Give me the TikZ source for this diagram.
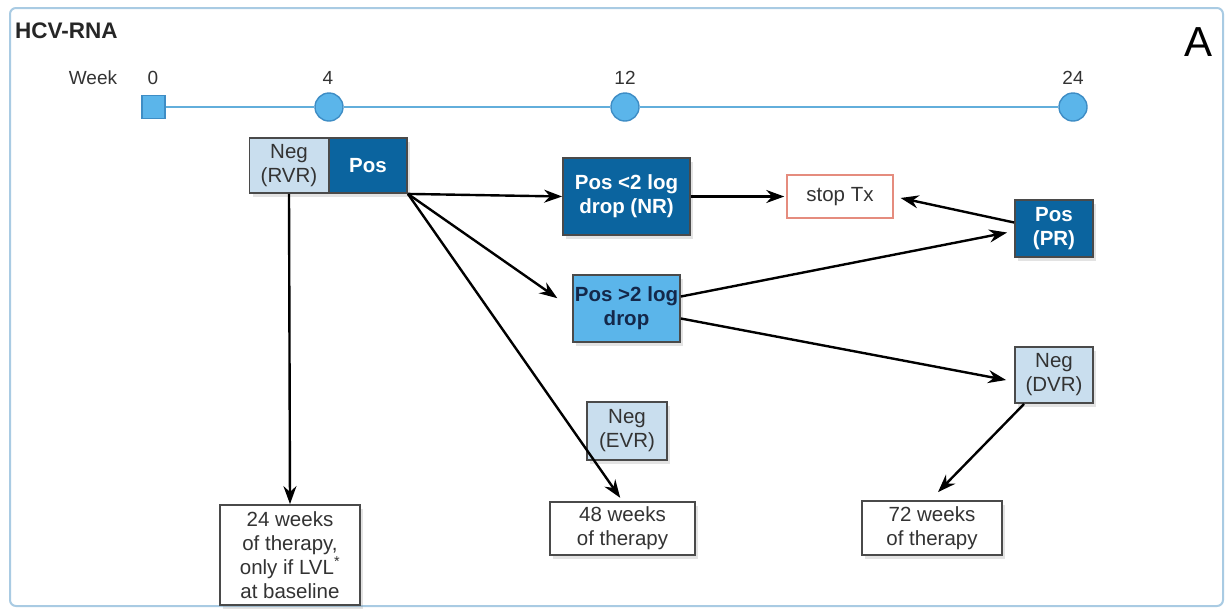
\documentclass[tikz,border=0pt]{standalone}
\usepackage{fontspec}
\setmainfont{Liberation Sans}
\usetikzlibrary{arrows.meta,shadows,calc}
\definecolor{darkb}{HTML}{0B649F}
\definecolor{midb}{HTML}{5BB5EA}
\definecolor{paleb}{HTML}{C9DEEE}
\definecolor{frameb}{HTML}{A9CBE3}
\definecolor{lineb}{HTML}{62AEDB}
\definecolor{circb}{HTML}{3E8DC5}
\definecolor{txtg}{HTML}{333333}
\definecolor{boxg}{HTML}{4A4A4A}
\definecolor{salmon}{HTML}{E58C7E}
\definecolor{navytxt}{HTML}{14284A}
\tikzset{
  box/.style={draw=boxg, line width=1.8pt, align=center, inner sep=0pt,
    font=\fontsize{20.5}{24}\selectfont, text=txtg,
    drop shadow={opacity=0.22, shadow xshift=3pt, shadow yshift=-4pt}},
  darkbox/.style={box, fill=darkb, draw=boxg, text=white, font=\fontsize{20.5}{24}\selectfont\bfseries},
  midbox/.style={box, fill=midb, text=navytxt, font=\fontsize{20.5}{24}\selectfont\bfseries},
  palebox/.style={box, fill=paleb},
  whitebox/.style={box, fill=white},
  arr/.style={-{Stealth[length=18pt,width=13pt]}, line width=2.4pt, black},
  tick/.style={text=txtg, font=\fontsize{19}{22}\selectfont},
  milestone/.style={circle, fill=midb, draw=circb, line width=1.4pt, minimum size=28pt, inner sep=0pt}
}
\begin{document}
\begin{tikzpicture}[x=1pt,y=-1pt]
\useasboundingbox (0,0) rectangle (1226,614);
\fill[white] (0,0) rectangle (1226,614);
\draw[frameb, line width=2pt, rounded corners=6pt] (10,8) rectangle (1223,606);
\node[font=\fontsize{42}{42}\selectfont, anchor=center] (lblA) at (1198,42) {A};
\node[font=\fontsize{22.5}{25}\selectfont\bfseries, anchor=west, inner sep=0pt, text=black!85] (title) at (15,31) {HCV-RNA};
% timeline
\node[tick] (wk) at (93,78) {Week};
\node[tick] (t0) at (153,78) {0};
\node[tick] (t4) at (328,78) {4};
\node[tick] (t12) at (625,78) {12};
\node[tick] (t24) at (1073,78) {24};
\node[draw=circb, fill=midb, line width=1.4pt, minimum size=23pt, inner sep=0pt] (m0) at (153.5,107) {};
\node[milestone] (m4) at (329,107) {};
\node[milestone] (m12) at (625,107) {};
\node[milestone] (m24) at (1073,107) {};
\draw[lineb, line width=2pt] (m0) -- (m4) -- (m12) -- (m24);
% boxes
\node[palebox, minimum width=79pt, minimum height=55pt] (rvr) at (289,165.5) {Neg\\(RVR)};
\node[darkbox, minimum width=78pt, minimum height=55pt] (pos) at (368,165.5) {Pos};
\node[darkbox, minimum width=127pt, minimum height=77pt] (nr) at (626.5,196.5) {Pos <2 log\\drop (NR)};
\node[draw=salmon, fill=white, line width=1.5pt, align=center, inner sep=0pt, text=txtg, font=\fontsize{20.5}{24}\selectfont, minimum width=106pt, minimum height=43pt] (stop) at (840,196.5) {stop Tx};
\node[darkbox, minimum width=78pt, minimum height=57pt] (pr) at (1054,228.5) {Pos\\(PR)};
\node[midbox, minimum width=107pt, minimum height=67pt] (gt) at (626.5,308.5) {Pos >2 log\\drop};
\node[palebox, minimum width=80pt, minimum height=58pt] (evr) at (627,431) {Neg\\(EVR)};
\node[palebox, minimum width=78pt, minimum height=56pt] (dvr) at (1054,375) {Neg\\(DVR)};
\node[whitebox, minimum width=140pt, minimum height=100pt] (w24) at (290,555) {24 weeks\\of therapy,\\only if LVL\textsuperscript{*}\\at baseline};
\node[whitebox, minimum width=145pt, minimum height=53pt] (w48) at (622.5,528.5) {48 weeks\\of therapy};
\node[whitebox, minimum width=140pt, minimum height=54pt] (w72) at (932,528) {72 weeks\\of therapy};
% arrows
\draw[arr] (rvr.south) -- (w24.north);
\draw[arr] (pos.south east) -- (nr.west);
\draw[arr, shorten >=18pt] (pos.south east) -- (gt.west);
\draw[arr, shorten >=4pt] (pos.south east) -- (w48.north);
\draw[arr, shorten >=2pt] (nr.east) -- (stop.west);
\draw[arr, shorten >=7pt] ($(pr.west)+(0,-6)$) -- (stop.east);
\draw[arr] ($(gt.east)+(0,-12)$) -- ($(pr.west)+(-7,4)$);
\draw[arr] ($(gt.east)+(0,10)$) -- ($(dvr.west)+(-8,5)$);
\draw[arr] ($(dvr.south west)+(10,0)$) -- ($(w72.north)+(6,-8)$);
\end{tikzpicture}
\end{document}
